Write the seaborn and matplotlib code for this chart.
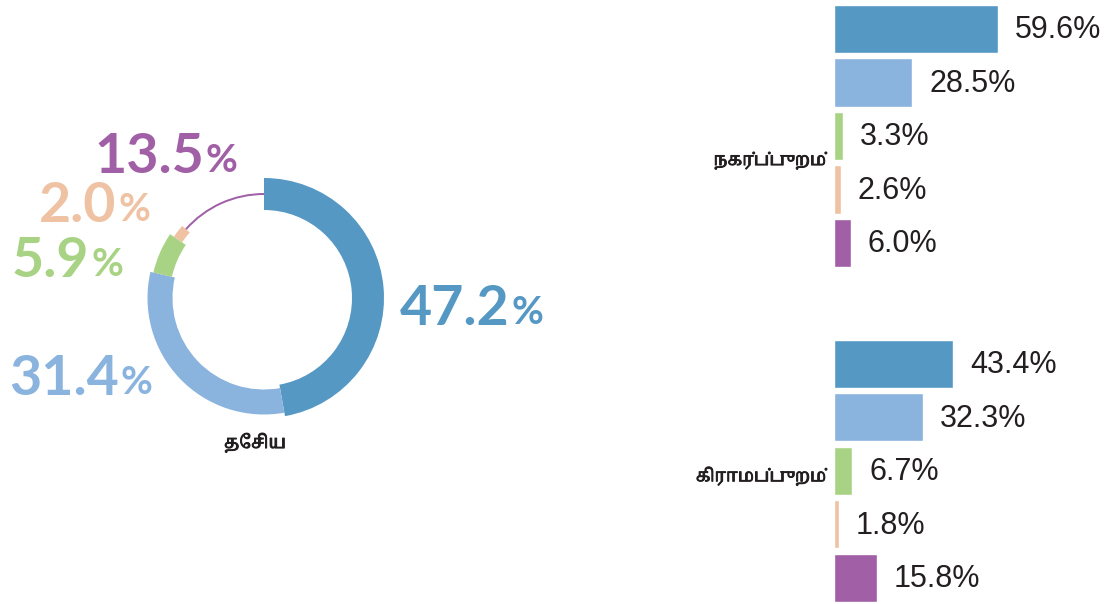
# plot.py
# Donut of national shares + horizontal bars for urban / rural

import numpy as np
import pandas as pd
import matplotlib
matplotlib.use('Agg')
import matplotlib.pyplot as plt
import matplotlib.patheffects as pe
from matplotlib.patches import Wedge
import seaborn as sns

# ---- data ----
categories = ['c1', 'c2', 'c3', 'c4', 'c5']
colors = ['#5598c4', '#8ab3de', '#a9d384', '#eec2a3', '#a15fa6']
national = [47.2, 31.4, 5.9, 2.0, 13.5]
urban = [59.6, 28.5, 3.3, 2.6, 6.0]
rural = [43.4, 32.3, 6.7, 1.8, 15.8]
national_label = 'தேசிய'
urban_label = 'நகர்ப்புறம்'
rural_label = 'கிராமப்புறம்'

# ring thickness per segment (px), as drawn in the original
ring_widths = [32, 25, 19, 10, 2]

sns.set_style('white')
tamil_fonts = ['Noto Serif Tamil', 'Noto Sans Tamil', 'Lohit Tamil', 'DejaVu Sans']
num_font = ['Lato', 'DejaVu Sans']
bar_font = ['Liberation Sans Narrow', 'Liberation Sans', 'DejaVu Sans']
bold_fx = [pe.withStroke(linewidth=0.7, foreground='#231f20')]

W, H = 1104, 604
fig = plt.figure(figsize=(W / 100, H / 100), dpi=100)

# ---- donut (pixel coordinates, y up) ----
ax = fig.add_axes([0, 0, 1, 1])
ax.set_xlim(0, W)
ax.set_ylim(0, H)
ax.axis('off')

cx, cy = 264, H - 298
r_mid = 104
start = 90.0
for val, col, w in zip(national, colors, ring_widths):
    sweep = val / 100 * 360
    ax.add_patch(Wedge((cx, cy), r_mid + w / 2, start - sweep, start,
                       width=w, facecolor=col, edgecolor='none'))
    start -= sweep

# value labels: big number + smaller percent sign
label_pos = [(400, 325), (9, 395), (12, 277), (39, 222), (94, 173)]
for val, col, (x, y) in zip(national, colors, label_pos):
    t = ax.text(x, H - y, f'{val:.1f}', color=col, fontsize=40, fontweight='bold',
                family=num_font, ha='left', va='baseline')
    ax.annotate('%', xy=(1, 0), xycoords=t, xytext=(1.5, 3), textcoords='offset points',
                color=col, fontsize=28, fontweight='bold', family=num_font,
                ha='left', va='bottom')

ax.text(255, H - 443, national_label, fontsize=13, fontweight='bold',
        family=tamil_fonts, ha='center', va='center', color='#231f20',
        path_effects=bold_fx)

# ---- bars ----
px_per_pct = 2.75
bar_left = 834
ax_w = (W - bar_left) / W
xmax = (W - bar_left) / px_per_pct


def draw_bars(values, top_px, label, label_row):
    height_px = 267.5
    bax = fig.add_axes([bar_left / W, 1 - (top_px + height_px) / H, ax_w, height_px / H])
    df = pd.DataFrame({'cat': categories, 'value': values})
    sns.barplot(data=df, x='value', y='cat', hue='cat', palette=colors,
                orient='h', width=0.9, legend=False, ax=bax, saturation=1)
    bax.set_xlim(0, xmax)
    bax.set_ylim(4.5, -0.5)
    bax.axis('off')
    for i, v in enumerate(values):
        bax.annotate(f'{v:.1f}%', xy=(v, i), xytext=(12, -1), textcoords='offset points',
                     fontsize=22, family=bar_font, color='#231f20',
                     ha='left', va='center')
    bax.text(-8 / px_per_pct, label_row, label, fontsize=12.5, fontweight='bold',
             family=tamil_fonts, ha='right', va='center', color='#231f20',
             path_effects=bold_fx)


draw_bars(urban, 2.25, urban_label, 2.45)
draw_bars(rural, 337.0, rural_label, 2.1)

fig.savefig('out.png', dpi=100)
